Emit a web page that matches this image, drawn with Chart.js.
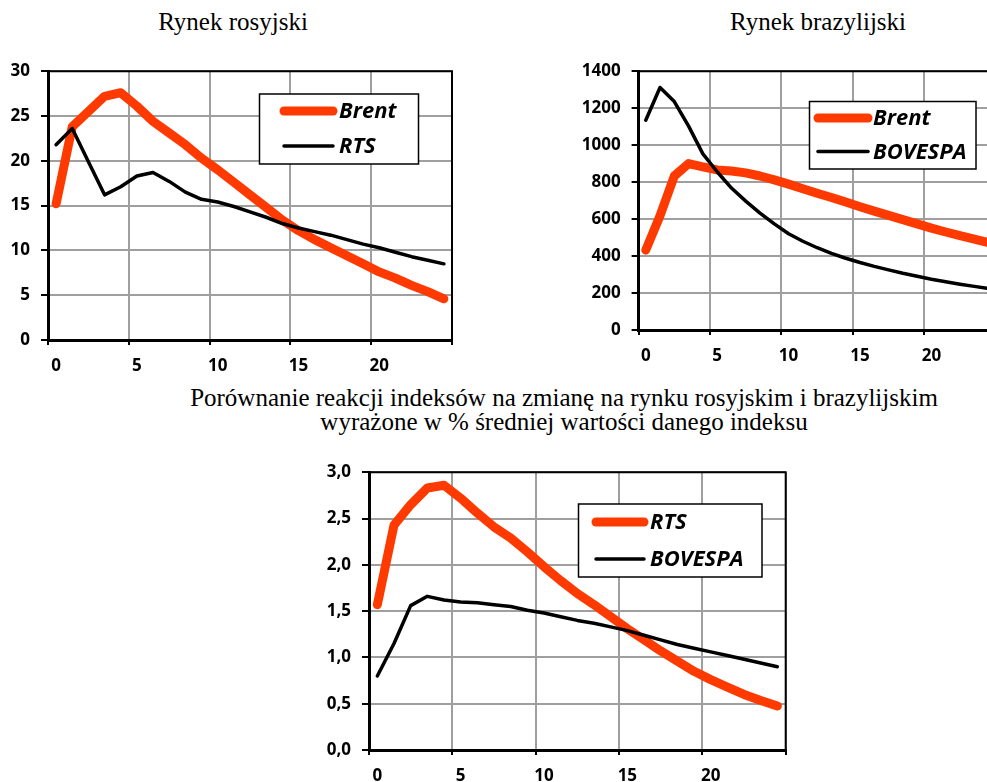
<!DOCTYPE html>
<html>
<head>
<meta charset="utf-8">
<script src="https://cdn.jsdelivr.net/npm/chart.js@4.4.0/dist/chart.umd.min.js"></script>
<style>
  html, body { margin: 0; padding: 0; background: #fff; }
  body { width: 987px; height: 782px; overflow: hidden; position: relative; }
  .panel { position: absolute; }
  .title {
    position: absolute;
    font-family: "Liberation Serif", "Times New Roman", serif;
    font-size: 25px;
    line-height: 24px;
    color: #000;
    white-space: nowrap;
    text-align: center;
  }
</style>
</head>
<body>
<div class="title" style="left:83px; top:10px; width:300px;">Rynek rosyjski</div>
<div class="title" style="left:668px; top:10px; width:300px;">Rynek brazylijski</div>
<div class="title" style="left:114px; top:386px; width:900px;">Porównanie reakcji indeksów na zmianę na rynku rosyjskim i brazylijskim<br>wyrażone w % średniej wartości danego indeksu</div>

<div class="panel" style="left:0px; top:50px;"><canvas id="russia" width="480" height="330"></canvas></div>
<div class="panel" style="left:570px; top:50px;"><canvas id="brazil" width="460" height="330"></canvas></div>
<div class="panel" style="left:300px; top:450px;"><canvas id="compare" width="520" height="332"></canvas></div>

<script>
// months after the shock
const steps = [0, 1, 2, 3, 4, 5, 6, 7, 8, 9, 10, 11, 12, 13, 14, 15, 16, 17, 18, 19, 20, 21, 22, 23, 24];

// Rynek rosyjski
const brentRus = [15.2, 23.8, 25.5, 27.2, 27.6, 26.1, 24.4, 23.1, 21.8, 20.3, 19.0, 17.6, 16.2, 14.8, 13.4, 12.2, 11.2, 10.3, 9.4, 8.5, 7.6, 6.9, 6.1, 5.4, 4.6];
const rts = [21.8, 23.6, 19.9, 16.2, 17.1, 18.3, 18.7, 17.7, 16.5, 15.7, 15.4, 14.9, 14.3, 13.7, 13.0, 12.5, 12.1, 11.7, 11.2, 10.7, 10.3, 9.8, 9.3, 8.9, 8.5];

// Rynek brazylijski
const brentBra = [432, 618, 833, 900, 883, 866, 860, 850, 833, 812, 789, 764, 740, 717, 692, 667, 643, 620, 597, 574, 551, 530, 510, 492, 473];
const bovespa = [1135, 1312, 1236, 1103, 953, 856, 768, 697, 632, 574, 521, 480, 445, 415, 388, 365, 344, 325, 307, 291, 275, 261, 248, 236, 224];

// porownanie w % sredniej wartosci
const rtsPct = [1.57, 2.43, 2.65, 2.83, 2.86, 2.72, 2.56, 2.41, 2.29, 2.14, 1.98, 1.83, 1.69, 1.57, 1.44, 1.31, 1.19, 1.07, 0.96, 0.85, 0.76, 0.68, 0.60, 0.535, 0.475];
const bovespaPct = [0.80, 1.15, 1.56, 1.66, 1.62, 1.60, 1.59, 1.57, 1.55, 1.51, 1.48, 1.44, 1.40, 1.37, 1.33, 1.29, 1.24, 1.19, 1.14, 1.10, 1.06, 1.02, 0.98, 0.94, 0.90];

const RED = '#ff3a00';
const GRID = '#9f9f9f';
const FONT = '"Open Sans", "Liberation Sans", sans-serif';

Chart.defaults.font.family = FONT;
Chart.defaults.font.size = 17;
Chart.defaults.font.weight = 'bold';
Chart.defaults.color = '#000';

// top and right edge of the plot area
const framePlugin = {
  id: 'frame',
  beforeDatasetsDraw(chart) {
    const a = chart.chartArea;
    const ctx = chart.ctx;
    ctx.save();
    ctx.strokeStyle = '#000';
    ctx.lineWidth = 2;
    ctx.beginPath();
    ctx.moveTo(a.left, a.top);
    ctx.lineTo(a.right, a.top);
    ctx.lineTo(a.right, a.bottom);
    ctx.stroke();
    ctx.restore();
  }
};

// boxed legend sitting inside the plot
const boxLegend = {
  id: 'boxLegend',
  afterDatasetsDraw(chart, args, opts) {
    const ctx = chart.ctx;
    ctx.save();
    ctx.fillStyle = '#fff';
    ctx.fillRect(opts.x, opts.y, opts.w, opts.h);
    ctx.strokeStyle = '#000';
    ctx.lineWidth = 1.5;
    ctx.strokeRect(opts.x, opts.y, opts.w, opts.h);
    chart.data.datasets.forEach((ds, i) => {
      const y = opts.rows[i];
      ctx.strokeStyle = ds.borderColor;
      ctx.lineWidth = ds.borderWidth;
      ctx.lineCap = 'round';
      ctx.beginPath();
      ctx.moveTo(opts.lineFrom, y);
      ctx.lineTo(opts.lineTo, y);
      ctx.stroke();
      ctx.fillStyle = '#000';
      ctx.font = 'italic bold 22px ' + FONT;
      ctx.textBaseline = 'middle';
      ctx.textAlign = 'left';
      ctx.fillText(ds.label, opts.textX, y + 1);
    });
    ctx.restore();
  }
};

function lineSet(label, data, color, width, order) {
  return {
    label: label,
    data: data,
    borderColor: color,
    borderWidth: width,
    pointRadius: 0,
    tension: 0,
    borderCapStyle: 'round',
    borderJoinStyle: 'round',
    order: order
  };
}

function makeChart(id, sets, yOpts, box) {
  const everyFifth = (ctx) => (ctx.index === undefined || ctx.index % 5 === 0);
  return new Chart(document.getElementById(id), {
    type: 'line',
    data: { labels: steps, datasets: sets },
    options: {
      responsive: false,
      animation: false,
      devicePixelRatio: 1,
      layout: { padding: { left: 0, top: box.top, right: box.right, bottom: 0 } },
      plugins: {
        legend: { display: false },
        tooltip: { enabled: false },
        boxLegend: box.legend
      },
      scales: {
        x: {
          offset: true,
          grid: {
            offset: true,
            lineWidth: 2,
            color: (ctx) => everyFifth(ctx) ? GRID : 'rgba(0,0,0,0)',
            tickColor: (ctx) => everyFifth(ctx) ? '#000' : 'rgba(0,0,0,0)',
            tickLength: 5
          },
          border: { color: '#000', width: 3 },
          ticks: {
            autoSkip: false,
            maxRotation: 0,
            padding: 11,
            callback: function (v, i) { return i % 5 === 0 ? String(steps[i]) : ''; }
          },
          afterFit(s) { s.height = box.xHeight; }
        },
        y: {
          min: yOpts.min,
          max: yOpts.max,
          ticks: {
            stepSize: yOpts.step,
            padding: 11,
            callback: yOpts.format
          },
          grid: { color: GRID, lineWidth: 2, tickColor: '#000', tickLength: 7 },
          border: { color: '#000', width: 3 },
          afterFit(s) { s.width = box.yWidth; }
        }
      }
    },
    plugins: [framePlugin, boxLegend]
  });
}

makeChart('russia',
  [lineSet('Brent', brentRus, RED, 9, 1), lineSet('RTS', rts, '#000', 3.5, 0)],
  { min: 0, max: 30, step: 5, format: (v) => String(v) },
  {
    top: 19, right: 28, yWidth: 48, xHeight: 40,
    legend: { x: 259.5, y: 44, w: 159, h: 70, rows: [61, 96], lineFrom: 284, lineTo: 333, textX: 339 }
  });

makeChart('brazil',
  [lineSet('Brent', brentBra, RED, 9, 1), lineSet('BOVESPA', bovespa, '#000', 3.5, 0)],
  { min: 0, max: 1400, step: 200, format: (v) => String(v) },
  {
    top: 15.7, right: 34.3, yWidth: 68.6, xHeight: 50,
    legend: { x: 239.5, y: 51.5, w: 166.5, h: 67.5, rows: [68, 101.5], lineFrom: 248, lineTo: 298, textX: 303 }
  });

makeChart('compare',
  [lineSet('RTS', rtsPct, RED, 9, 1), lineSet('BOVESPA', bovespaPct, '#000', 3.5, 0)],
  { min: 0, max: 3, step: 0.5, format: (v) => v.toFixed(1).replace('.', ',') },
  {
    top: 22.3, right: 34.3, yWidth: 69, xHeight: 32,
    legend: { x: 278.5, y: 54, w: 183.5, h: 73, rows: [72, 109], lineFrom: 296, lineTo: 344, textX: 350 }
  });
</script>
</body>
</html>
